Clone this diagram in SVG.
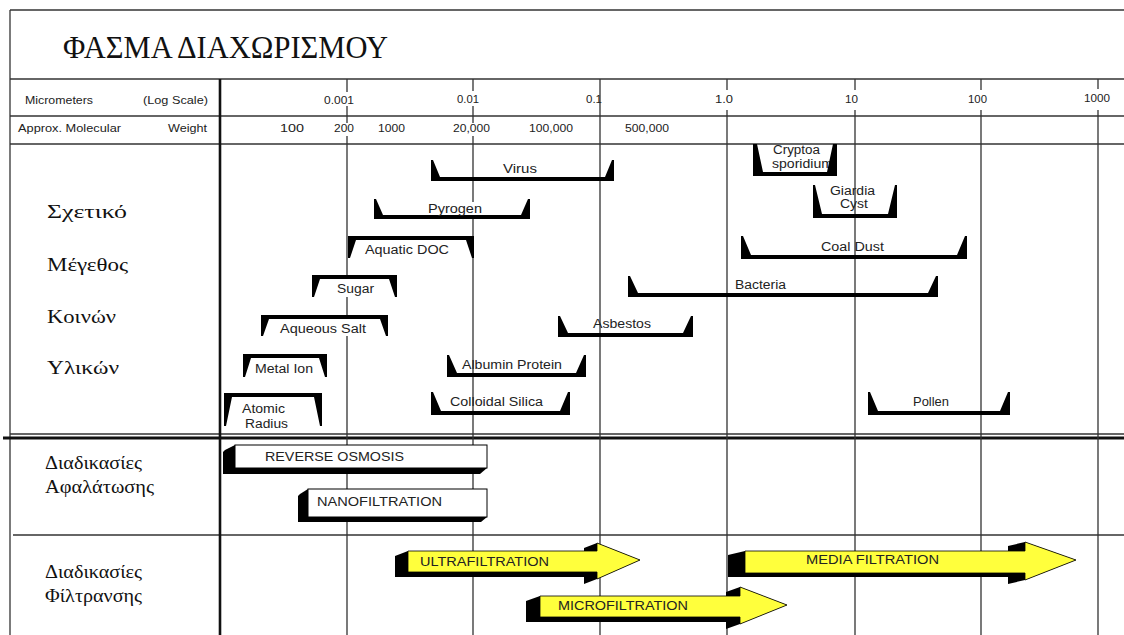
<svg xmlns="http://www.w3.org/2000/svg" width="1124" height="635" viewBox="0 0 1124 635">
<style>
.ln{stroke:#333;stroke-width:1.3;fill:none}
.ax{font-family:"Liberation Sans",Arial,sans-serif;font-size:10.5px;fill:#222}
.lb{font-family:"Liberation Sans",Arial,sans-serif;font-size:12.5px;fill:#222}
.pr{font-family:"Liberation Sans",Arial,sans-serif;font-size:13px;fill:#222}
.gr{font-family:"Liberation Serif","Times New Roman",serif;font-size:18px;fill:#111}
.br{fill:#000}
.sh{fill:#000}
.yl{fill:#ffff3c;stroke:#000;stroke-width:0.8}
</style>
<rect width="1124" height="635" fill="#fff"/>

<g id="frame">
<line class="ln" x1="10" y1="10" x2="1124" y2="10"/>
<line class="ln" x1="10" y1="10" x2="10" y2="635"/>
<line class="ln" x1="10" y1="79" x2="1124" y2="79"/>
<line class="ln" x1="10" y1="116" x2="1124" y2="116"/>
<line class="ln" x1="10" y1="144" x2="1124" y2="144"/>
<line class="ln" x1="10" y1="434" x2="1124" y2="434"/>
<line x1="3" y1="438" x2="1124" y2="438" stroke="#111" stroke-width="3"/>
<line class="ln" x1="13" y1="535" x2="1124" y2="535" stroke-width="1.6"/>
<line x1="220" y1="79" x2="220" y2="635" stroke="#111" stroke-width="2.6"/>
</g>

<g id="grid">
<path class="ln" d="M347,79V92 M347,106V123 M347,136V635 M473,79V91 M473,106V123 M473,136V635 M600,79V635 M727,79V90 M727,110V635 M855,79V90 M855,110V635 M981,79V90 M981,110V635 M1098,79V89 M1098,110V635"/>
</g>

<g id="title">
<text x="63" y="58" font-family="'Liberation Serif','Times New Roman',serif" font-size="31" fill="#111" textLength="325" lengthAdjust="spacingAndGlyphs">ΦΑΣΜΑ ΔΙΑΧΩΡΙΣΜΟΥ</text>
</g>

<g id="scale">
<text class="ax" x="25" y="104" textLength="68" lengthAdjust="spacingAndGlyphs">Micrometers</text>
<text class="ax" x="143" y="104" textLength="65" lengthAdjust="spacingAndGlyphs">(Log Scale)</text>
<text class="ax" x="324" y="104" textLength="30" lengthAdjust="spacingAndGlyphs">0.001</text>
<text class="ax" x="457" y="103" textLength="22" lengthAdjust="spacingAndGlyphs">0.01</text>
<text class="ax" x="586" y="103" textLength="16" lengthAdjust="spacingAndGlyphs">0.1</text>
<text class="ax" x="715" y="103" textLength="18" lengthAdjust="spacingAndGlyphs">1.0</text>
<text class="ax" x="845" y="103" textLength="13" lengthAdjust="spacingAndGlyphs">10</text>
<text class="ax" x="968" y="103" textLength="19" lengthAdjust="spacingAndGlyphs">100</text>
<text class="ax" x="1084" y="102" textLength="26" lengthAdjust="spacingAndGlyphs">1000</text>
<text class="ax" x="18" y="132" textLength="103" lengthAdjust="spacingAndGlyphs">Approx. Molecular</text>
<text class="ax" x="168" y="132" textLength="39" lengthAdjust="spacingAndGlyphs">Weight</text>
<text class="ax" x="280" y="132" textLength="24" lengthAdjust="spacingAndGlyphs">100</text>
<text class="ax" x="334" y="132" textLength="20" lengthAdjust="spacingAndGlyphs">200</text>
<text class="ax" x="378" y="132" textLength="27" lengthAdjust="spacingAndGlyphs">1000</text>
<text class="ax" x="453" y="132" textLength="37" lengthAdjust="spacingAndGlyphs">20,000</text>
<text class="ax" x="529" y="132" textLength="44" lengthAdjust="spacingAndGlyphs">100,000</text>
<text class="ax" x="625" y="132" textLength="44" lengthAdjust="spacingAndGlyphs">500,000</text>
</g>

<g id="side-labels">
<text class="gr" x="47" y="218" textLength="80" lengthAdjust="spacingAndGlyphs">Σχετικό</text>
<text class="gr" x="47" y="271" textLength="81" lengthAdjust="spacingAndGlyphs">Μέγεθος</text>
<text class="gr" x="47" y="323" textLength="69" lengthAdjust="spacingAndGlyphs">Κοινών</text>
<text class="gr" x="47" y="374" textLength="72" lengthAdjust="spacingAndGlyphs">Υλικών</text>
<text class="gr" x="45" y="469" textLength="97" lengthAdjust="spacingAndGlyphs">Διαδικασίες</text>
<text class="gr" x="45" y="493" textLength="109" lengthAdjust="spacingAndGlyphs">Αφαλάτωσης</text>
<text class="gr" x="45" y="578" textLength="97" lengthAdjust="spacingAndGlyphs">Διαδικασίες</text>
<text class="gr" x="45" y="602" textLength="97" lengthAdjust="spacingAndGlyphs">Φίλτρανσης</text>
</g>

<g id="virus"><path class="br" d="M431,160 L433,160 L440,177 L605,177 L612,160 L614,160 L614,181 L431,181 Z"/><text class="lb" x="503" y="173" textLength="34" lengthAdjust="spacingAndGlyphs">Virus</text></g>
<g id="pyrogen"><rect x="426" y="202" width="58" height="14" fill="#fff"/><path class="br" d="M374,199 L376,199 L383,215 L521,215 L528,199 L530,199 L530,219 L374,219 Z"/><text class="lb" x="428" y="213" textLength="54" lengthAdjust="spacingAndGlyphs">Pyrogen</text></g>
<g id="aquatic-doc"><path class="br" d="M348,236 L474,236 L474,258 L472,258 L466,240 L356,240 L350,258 L348,258 Z"/><text class="lb" x="365" y="254" textLength="84" lengthAdjust="spacingAndGlyphs">Aquatic DOC</text></g>
<g id="sugar"><rect x="320" y="279" width="69" height="18" fill="#fff"/><path class="br" d="M312,275 L397,275 L397,297 L395,297 L389,279 L320,279 L314,297 L312,297 Z"/><text class="lb" x="337" y="293" textLength="37" lengthAdjust="spacingAndGlyphs">Sugar</text></g>
<g id="aqueous-salt"><rect x="269" y="319" width="111" height="17" fill="#fff"/><path class="br" d="M261,315 L388,315 L388,336 L386,336 L380,319 L269,319 L263,336 L261,336 Z"/><text class="lb" x="280" y="333" textLength="86" lengthAdjust="spacingAndGlyphs">Aqueous Salt</text></g>
<g id="metal-ion"><path class="br" d="M243,354 L327,354 L327,377 L325,377 L319,358 L251,358 L245,377 L243,377 Z"/><text class="lb" x="255" y="373" textLength="58" lengthAdjust="spacingAndGlyphs">Metal Ion</text></g>
<g id="atomic-radius"><path class="br" d="M224,393 L322,393 L322,426 L320,426 L314,397 L232,397 L226,426 L224,426 Z"/><text class="lb" x="242" y="413" textLength="43" lengthAdjust="spacingAndGlyphs">Atomic</text><text class="lb" x="245" y="428" textLength="43" lengthAdjust="spacingAndGlyphs">Radius</text></g>
<g id="albumin-protein"><path class="br" d="M447,355 L449,355 L457,373 L576,373 L584,355 L586,355 L586,377 L447,377 Z"/><text class="lb" x="462" y="369" textLength="100" lengthAdjust="spacingAndGlyphs">Albumin Protein</text></g>
<g id="colloidal-silica"><path class="br" d="M431,392 L433,392 L441,411 L560,411 L568,392 L570,392 L570,415 L431,415 Z"/><text class="lb" x="450" y="406" textLength="93" lengthAdjust="spacingAndGlyphs">Colloidal Silica</text></g>
<g id="asbestos"><path class="br" d="M558,316 L560,316 L568,333 L683,333 L691,316 L693,316 L693,337 L558,337 Z"/><text class="lb" x="593" y="328" textLength="58" lengthAdjust="spacingAndGlyphs">Asbestos</text></g>
<g id="bacteria"><path class="br" d="M628,276 L630,276 L638,293 L928,293 L936,276 L938,276 L938,297 L628,297 Z"/><text class="lb" x="735" y="289" textLength="51" lengthAdjust="spacingAndGlyphs">Bacteria</text></g>
<g id="coal-dust"><path class="br" d="M741,236 L743,236 L751,255 L957,255 L965,236 L967,236 L967,259 L741,259 Z"/><text class="lb" x="821" y="251" textLength="63" lengthAdjust="spacingAndGlyphs">Coal Dust</text></g>
<g id="cryptosporidium"><text class="lb" x="773" y="154" textLength="47" lengthAdjust="spacingAndGlyphs">Cryptoa</text><text class="lb" x="772" y="168" textLength="61" lengthAdjust="spacingAndGlyphs">sporidium</text><path class="br" d="M753,144 L757,144 L763,172 L827,172 L833,144 L837,144 L837,176 L753,176 Z"/></g>
<g id="giardia-cyst"><path class="br" d="M813,185 L815,185 L822,214 L888,214 L895,185 L897,185 L897,218 L813,218 Z"/><text class="lb" x="830" y="195" textLength="45" lengthAdjust="spacingAndGlyphs">Giardia</text><text class="lb" x="840" y="208" textLength="28" lengthAdjust="spacingAndGlyphs">Cyst</text></g>
<g id="pollen"><path class="br" d="M868,392 L870,392 L878,411 L1000,411 L1008,392 L1010,392 L1010,415 L868,415 Z"/><text class="lb" x="913" y="406" textLength="36" lengthAdjust="spacingAndGlyphs">Pollen</text></g>

<g id="reverse-osmosis">
<polygon class="sh" points="235,445 225,450 223,452 223,474 480,474 487,468 487,445"/>
<rect x="235" y="445" width="252" height="23" fill="#fff" stroke="#000" stroke-width="1"/>
<text class="pr" x="265" y="461" textLength="139" lengthAdjust="spacingAndGlyphs">REVERSE OSMOSIS</text>
</g>
<g id="nanofiltration">
<polygon class="sh" points="308,489 300,494 298,496 298,522 481,522 487,517 487,489"/>
<rect x="308" y="489" width="179" height="28" fill="#fff" stroke="#000" stroke-width="1"/>
<text class="pr" x="317" y="506" textLength="125" lengthAdjust="spacingAndGlyphs">NANOFILTRATION</text>
</g>
<g id="ultrafiltration">
<polygon class="sh" points="408,551 584,551 584,548 597,543 640,560 597,579 584,584 584,577 395,577 395,556"/>
<polygon class="yl" points="408,551 597,551 597,543 640,560 597,579 597,572 408,572"/>
<text class="pr" x="420" y="566" textLength="129" lengthAdjust="spacingAndGlyphs">ULTRAFILTRATION</text>
</g>
<g id="microfiltration">
<polygon class="sh" points="540,596 726,596 726,592 740,587 787,605 740,624 726,629 726,622 526,622 526,601"/>
<polygon class="yl" points="540,596 740,596 740,587 787,605 740,624 740,617 540,617"/>
<text class="pr" x="558" y="610" textLength="130" lengthAdjust="spacingAndGlyphs">MICROFILTRATION</text>
</g>
<g id="media-filtration">
<polygon class="sh" points="745,551 1008,551 1008,546 1025,542 1076,560 1025,580 1008,584 1008,577 728,577 728,555"/>
<polygon class="yl" points="745,551 1025,551 1025,542 1076,560 1025,580 1025,573 745,573"/>
<text class="pr" x="806" y="564" textLength="133" lengthAdjust="spacingAndGlyphs">MEDIA FILTRATION</text>
</g>
</svg>
